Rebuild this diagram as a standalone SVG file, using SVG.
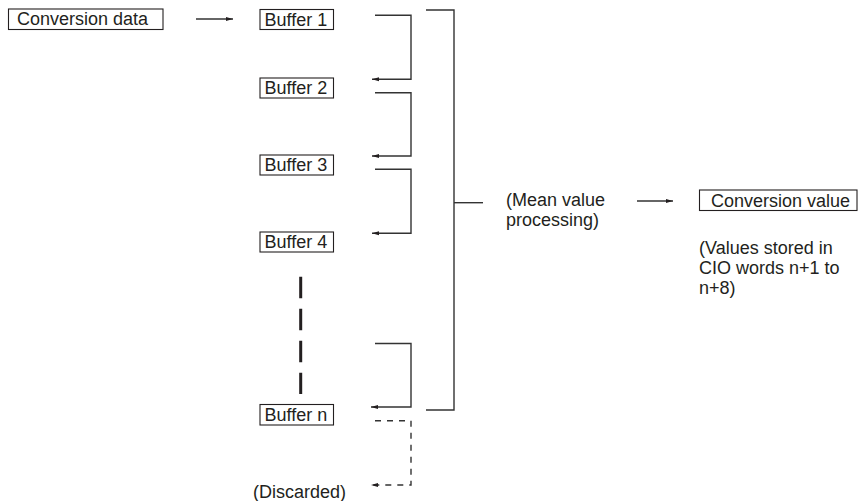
<svg xmlns="http://www.w3.org/2000/svg" width="860" height="501" viewBox="0 0 860 501">
<style>
text{font-family:"Liberation Sans",Arial,sans-serif;font-size:18px;fill:#231f20}
.box{fill:#fff;stroke:#231f20;stroke-width:1.1}
.ln{fill:none;stroke:#333;stroke-width:1.4}
.dl{fill:none;stroke:#333;stroke-width:1.4;stroke-dasharray:6 6}
.thick{fill:none;stroke:#231f20;stroke-width:3;stroke-dasharray:21.5 10.5}
</style>
<defs>
<marker id="ah" markerWidth="8" markerHeight="6" refX="7" refY="3" orient="auto" markerUnits="userSpaceOnUse">
<path d="M0,1 L7,3 L0,5 z" fill="#231f20"/>
</marker>
</defs>
<rect width="860" height="501" fill="#fff"/>
<g id="conversion-data"><rect class="box" x="8.5" y="9" width="154.5" height="20.5"/><text x="17" y="25">Conversion data</text></g>
<g id="buffer1"><rect class="box" x="260" y="9.5" width="73.5" height="20"/><text x="264.5" y="25.5">Buffer 1</text></g>
<g id="buffer2"><rect class="box" x="260" y="78" width="73.5" height="20"/><text x="264.5" y="94">Buffer 2</text></g>
<g id="buffer3"><rect class="box" x="260" y="155" width="73.5" height="20"/><text x="264.5" y="171">Buffer 3</text></g>
<g id="buffer4"><rect class="box" x="260" y="232" width="73.5" height="20"/><text x="264.5" y="248">Buffer 4</text></g>
<g id="buffern"><rect class="box" x="260" y="404.5" width="73.5" height="20.5"/><text x="264.5" y="421">Buffer n</text></g>
<g id="mean-value"><text x="506" y="206">(Mean value</text><text x="506" y="226">processing)</text></g>
<g id="conversion-value"><rect class="box" x="699.5" y="190" width="157.5" height="20.5"/><text x="711" y="207">Conversion value</text></g>
<g id="note"><text x="699" y="254">(Values stored in</text><text x="699" y="274">CIO words n+1 to</text><text x="699" y="294">n+8)</text></g>
<g id="discarded"><text x="253" y="498">(Discarded)</text></g>
<g id="connectors">
<line class="ln" x1="196" y1="19" x2="233" y2="19" marker-end="url(#ah)"/>
<polyline class="ln" points="375,15.3 411,15.3 411,79.3 372,79.3" marker-end="url(#ah)"/>
<polyline class="ln" points="375,92.7 411,92.7 411,156 372,156" marker-end="url(#ah)"/>
<polyline class="ln" points="375,169.3 411,169.3 411,233.3 372,233.3" marker-end="url(#ah)"/>
<polyline class="ln" points="375,343.5 411,343.5 411,407 371,407" marker-end="url(#ah)"/>
<polyline class="ln" points="426,10 454,10 454,410 426,410"/>
<line class="ln" x1="454" y1="202.7" x2="483" y2="202.7"/>
<line class="ln" x1="637" y1="201" x2="673" y2="201" marker-end="url(#ah)"/>
<line class="thick" x1="300.7" y1="276.7" x2="300.7" y2="394"/>
<polyline class="dl" points="375,420.7 411,420.7 411,485 371,485" marker-end="url(#ah)"/>
</g>
</svg>
